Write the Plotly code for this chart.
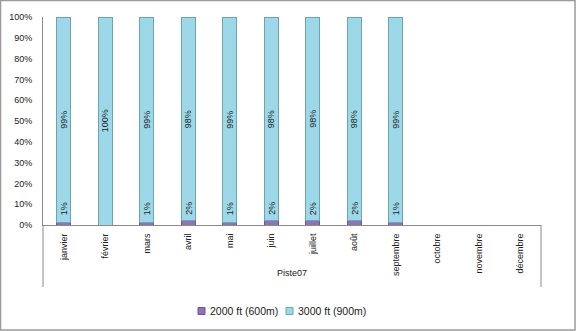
import plotly.graph_objects as go

months = ["janvier", "février", "mars", "avril", "mai", "juin", "juillet",
          "août", "septembre", "octobre", "novembre", "décembre"]
share_2000ft = [1, 0, 1, 2, 1, 2, 2, 2, 1, None, None, None]
share_3000ft = [99, 100, 99, 98, 99, 98, 98, 98, 99, None, None, None]
group_label = "Piste07"
series_names = ["2000 ft (600m)", "3000 ft (900m)"]
series_colors = ["#8f72b8", "#9dd8e8"]
series_edges = ["#6e5596", "#6fa3b2"]

FONT = "Liberation Sans"
W, H = 576, 331
L, R, T, B = 43, 35, 17, 106
pw, ph = W - L - R, H - T - B


def px_x(x):
    return (x - L) / pw


def px_y(y):
    return (H - B - y) / ph


fig = go.Figure()
for name, vals, col, edge in zip(series_names, [share_2000ft, share_3000ft],
                                 series_colors, series_edges):
    fig.add_bar(x=months, y=vals, name=name, showlegend=False,
                marker=dict(color=col, line=dict(color=edge, width=1)),
                width=0.34)

annotations = []
for m, a, b in zip(months, share_2000ft, share_3000ft):
    if a is None:
        continue
    if a > 0:
        annotations.append(dict(x=m, y=0, yanchor="bottom", yshift=8,
                                text=f"{a}%", textangle=-90, showarrow=False,
                                font=dict(family=FONT, size=9, color="#222")))
    annotations.append(dict(x=m, y=a + b / 2, text=f"{b}%", textangle=-90,
                            showarrow=False,
                            font=dict(family=FONT, size=9, color="#222")))

annotations.append(dict(x=0.5, y=px_y(280), xref="paper", yref="paper",
                        text=group_label, showarrow=False,
                        font=dict(family=FONT, size=9, color="#222")))

shapes = [
    # chart frame
    dict(type="rect", xref="paper", yref="paper",
         x0=px_x(0.5), x1=px_x(575), y0=px_y(330), y1=px_y(0.5),
         line=dict(color="#9a9a9a", width=1.5)),
    # category group dividers
    dict(type="line", xref="paper", yref="paper", x0=0, x1=0,
         y0=0, y1=px_y(287), line=dict(color="#8a8a8a", width=1)),
    dict(type="line", xref="paper", yref="paper", x0=1, x1=1,
         y0=0, y1=px_y(287), line=dict(color="#8a8a8a", width=1)),
]

# legend: small swatch followed by the series name
legend_x = [198, 286]
for lx, name, col, edge in zip(legend_x, series_names, series_colors,
                               series_edges):
    shapes.append(dict(type="rect", xref="paper", yref="paper",
                       x0=px_x(lx), x1=px_x(lx + 7),
                       y0=px_y(314.5), y1=px_y(307.5),
                       fillcolor=col, line=dict(color=edge, width=1)))
    annotations.append(dict(x=px_x(lx + 10), y=px_y(311), xref="paper",
                            yref="paper", xanchor="left", yanchor="middle",
                            text=name, showarrow=False,
                            font=dict(family=FONT, size=10.5, color="#222")))

fig.update_layout(
    width=W, height=H,
    margin=dict(l=L, r=R, t=T, b=B, autoexpand=False),
    barmode="stack",
    plot_bgcolor="white", paper_bgcolor="white",
    font=dict(family=FONT, size=9, color="#222"),
    showlegend=False,
    annotations=annotations,
    shapes=shapes,
)
fig.update_xaxes(showline=True, linecolor="#8a8a8a", linewidth=1,
                 tickangle=-90, showgrid=False, ticks="", automargin=False,
                 ticklabelstandoff=4,
                 tickfont=dict(family=FONT, size=9, color="#222"))
fig.update_yaxes(range=[0, 100], dtick=10, ticksuffix="%", automargin=False,
                 showline=True, linecolor="#8a8a8a", linewidth=1,
                 showgrid=False, zeroline=False, ticks="",
                 ticklabelstandoff=8,
                 tickfont=dict(family=FONT, size=9, color="#222"))

fig.write_html("out.html")
